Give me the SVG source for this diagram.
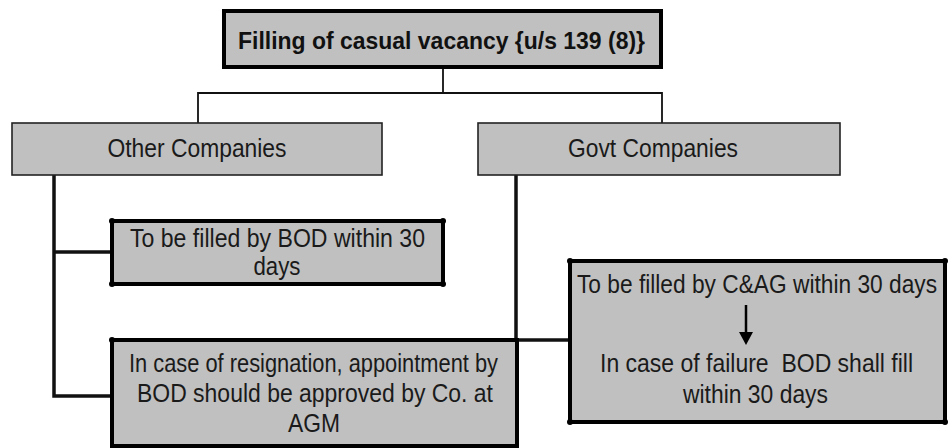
<svg xmlns="http://www.w3.org/2000/svg" width="952" height="448" viewBox="0 0 952 448">
<style>
text{font-family:"Liberation Sans",Arial,sans-serif;fill:#1a1a1a;text-anchor:middle;white-space:pre}
.t{font-size:26px}
.title{font-size:24px;font-weight:bold;fill:#111}
.box{fill:#c0c0c0}
.thin{stroke:#222;stroke-width:1.6}
.thick{stroke:#000;stroke-width:4}
.conn{fill:none;stroke:#111}
.dot{fill:#000}
</style>
<g id="connectors">
<polyline class="conn" stroke-width="1.8" points="443,67 443,93"/>
<polyline class="conn" stroke-width="1.8" points="198,123 198,93 662,93 662,123"/>
<polyline class="conn" stroke-width="3.5" points="54,175 54,396 112,396"/>
<line class="conn" stroke-width="3.5" x1="54" y1="252" x2="112" y2="252"/>
<line class="conn" stroke-width="3.5" x1="516" y1="175" x2="516" y2="448"/>
<line class="conn" stroke-width="3.5" x1="516" y1="340" x2="570" y2="340"/>
</g>
<g id="title">
<rect class="box thick" x="224" y="11" width="437" height="56"/>
<text class="title" x="441.5" y="49" textLength="407" lengthAdjust="spacingAndGlyphs">Filling of casual vacancy {u/s 139 (8)}</text>
</g>
<g id="other">
<rect class="box thin" x="12" y="123" width="370" height="52"/>
<text class="t" x="197" y="157" textLength="179" lengthAdjust="spacingAndGlyphs">Other Companies</text>
</g>
<g id="govt">
<rect class="box thin" x="478" y="123" width="362" height="52"/>
<text class="t" x="653" y="157" textLength="170" lengthAdjust="spacingAndGlyphs">Govt Companies</text>
</g>
<g id="bod">
<rect class="box thick" x="112" y="221" width="331" height="63"/>
<circle class="dot" cx="112" cy="221" r="3"/><circle class="dot" cx="443" cy="221" r="3"/>
<circle class="dot" cx="112" cy="284" r="3"/><circle class="dot" cx="443" cy="284" r="3"/>
<text class="t" x="277.5" y="247" textLength="295" lengthAdjust="spacingAndGlyphs">To be filled by BOD within 30</text>
<text class="t" x="277" y="275" textLength="47" lengthAdjust="spacingAndGlyphs">days</text>
</g>
<g id="resignation">
<rect class="box thick" x="112" y="340" width="405" height="106"/>
<circle class="dot" cx="112" cy="340" r="3"/>
<text class="t" x="313.5" y="372" textLength="369" lengthAdjust="spacingAndGlyphs">In case of resignation, appointment by</text>
<text class="t" x="315" y="402" textLength="356" lengthAdjust="spacingAndGlyphs">BOD should be approved by Co. at</text>
<text class="t" x="314" y="432" textLength="52" lengthAdjust="spacingAndGlyphs">AGM</text>
</g>
<g id="cag">
<rect class="box thick" x="570" y="261" width="375" height="161"/>
<circle class="dot" cx="570" cy="261" r="3"/><circle class="dot" cx="945" cy="261" r="3"/>
<circle class="dot" cx="570" cy="422" r="3"/><circle class="dot" cx="945" cy="422" r="3"/>
<text class="t" x="757" y="293" textLength="360" lengthAdjust="spacingAndGlyphs">To be filled by C&amp;AG within 30 days</text>
<line x1="746" y1="305" x2="746" y2="333" stroke="#000" stroke-width="2.5"/>
<polygon points="739,332 753,332 746,345" fill="#000"/>
<text class="t" x="756.5" y="372" textLength="313" lengthAdjust="spacingAndGlyphs">In case of failure  BOD shall fill</text>
<text class="t" x="755.5" y="403" textLength="145" lengthAdjust="spacingAndGlyphs">within 30 days</text>
</g>
</svg>
